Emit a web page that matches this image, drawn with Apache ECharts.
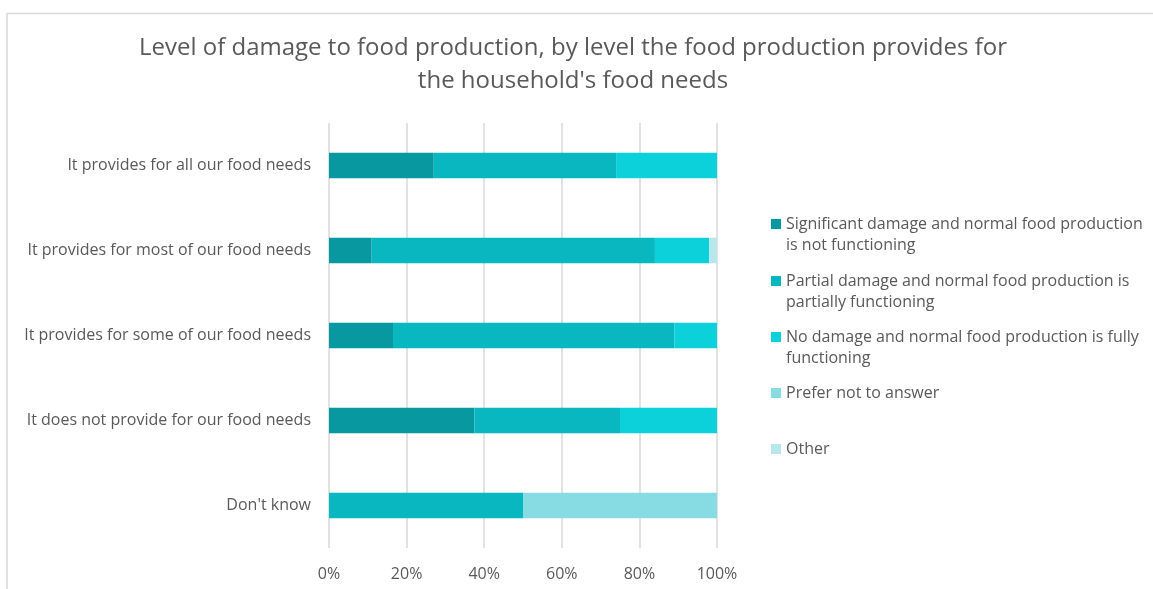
<!DOCTYPE html>
<html>
<head>
<meta charset="utf-8">
<style>
  html, body { margin: 0; padding: 0; background: #ffffff; }
  #chart { width: 1153px; height: 589px; }
</style>
<script src="https://cdn.jsdelivr.net/npm/echarts@6/dist/echarts.min.js"></script>
</head>
<body>
<div id="chart"></div>
<script>
// Household food-production groups (top to bottom)
const categories = [
  "It provides for all our food needs",
  "It provides for most of our food needs",
  "It provides for some of our food needs",
  "It does not provide for our food needs",
  "Don't know"
];

// Damage level shares per group, in percent
const significantDamage = [27, 11, 16.5, 37.5, 0];
const partialDamage     = [47, 73, 72.5, 37.5, 50];
const noDamage          = [26, 14, 11, 25, 0];
const preferNotToAnswer = [0, 0, 0, 0, 50];
const otherAnswer       = [0, 2, 0, 0, 0];

const seriesNames = [
  "Significant damage and normal food production is not functioning",
  "Partial damage and normal food production is partially functioning",
  "No damage and normal food production is fully functioning",
  "Prefer not to answer",
  "Other"
];
// Wrapped legend text
const legendLines = [
  ["Significant damage and normal food production", "is not functioning"],
  ["Partial damage and normal food production is", "partially functioning"],
  ["No damage and normal food production is fully", "functioning"],
  ["Prefer not to answer"],
  ["Other"]
];
const xTicks = [0, 20, 40, 60, 80, 100];

const colors = ["#07999f", "#08b7c0", "#0cd0da", "#86dce2", "#b8e7eb"];
const seriesData = [significantDamage, partialDamage, noDamage, preferNotToAnswer, otherAnswer];

const FONT = "'Open Sans', sans-serif";
const TEXT = "#595959";
const LINE_H = 21;
// vertical centre of each legend swatch
const legendCentres = [224, 281, 337, 393, 449];

const chart = echarts.init(document.getElementById("chart"), null, { renderer: "canvas" });

// One legend block per entry; wrapped entries get a blank leading line so the
// first text line sits level with the swatch.
const legends = seriesNames.map((name, i) => {
  const lines = legendLines[i];
  const shown = lines.length > 1 ? [" "].concat(lines) : lines;
  const halfText = shown.length * LINE_H / 2;
  return {
    left: 771,
    top: legendCentres[i] - halfText,
    padding: 0,
    orient: "vertical",
    itemWidth: 10,
    itemHeight: 10,
    itemGap: 0,
    selectedMode: false,
    icon: "rect",
    data: [name],
    formatter: () => shown.join("\n"),
    textStyle: {
      fontFamily: FONT,
      fontSize: 16,
      color: TEXT,
      lineHeight: LINE_H
    }
  };
});

chart.setOption({
  animation: false,
  backgroundColor: "#ffffff",
  title: {
    text: "Level of damage to food production, by level the food production provides for\nthe household's food needs",
    left: 573,
    textAlign: "center",
    top: 32,
    padding: 0,
    textStyle: {
      fontFamily: FONT,
      fontSize: 24,
      fontWeight: "normal",
      color: TEXT,
      lineHeight: 33
    }
  },
  graphic: [{
    type: "polyline",
    shape: { points: [[7, 589], [7, 13.5], [1153, 13.5]] },
    style: { stroke: "#d9d9d9", lineWidth: 1.5, fill: null },
    silent: true
  }],
  legend: legends,
  grid: { left: 329, right: 436, top: 123, bottom: 41, containLabel: false },
  xAxis: {
    type: "value",
    min: 0,
    max: 100,
    interval: 20,
    axisLine: { show: false },
    axisTick: { show: false },
    splitLine: { show: true, lineStyle: { color: "#d9d9d9", width: 1.5 } },
    axisLabel: {
      fontFamily: FONT,
      fontSize: 16,
      color: TEXT,
      margin: 18,
      formatter: v => xTicks.includes(v) ? v + "%" : ""
    }
  },
  yAxis: {
    type: "category",
    inverse: true,
    data: categories,
    axisLine: { show: false },
    axisTick: { show: false },
    axisLabel: {
      fontFamily: FONT,
      fontSize: 16,
      color: TEXT,
      margin: 18
    }
  },
  series: seriesNames.map((name, i) => ({
    name: name,
    type: "bar",
    stack: "total",
    barWidth: "30%",
    data: seriesData[i],
    itemStyle: { color: colors[i] },
    emphasis: { disabled: true }
  }))
});
</script>
</body>
</html>
